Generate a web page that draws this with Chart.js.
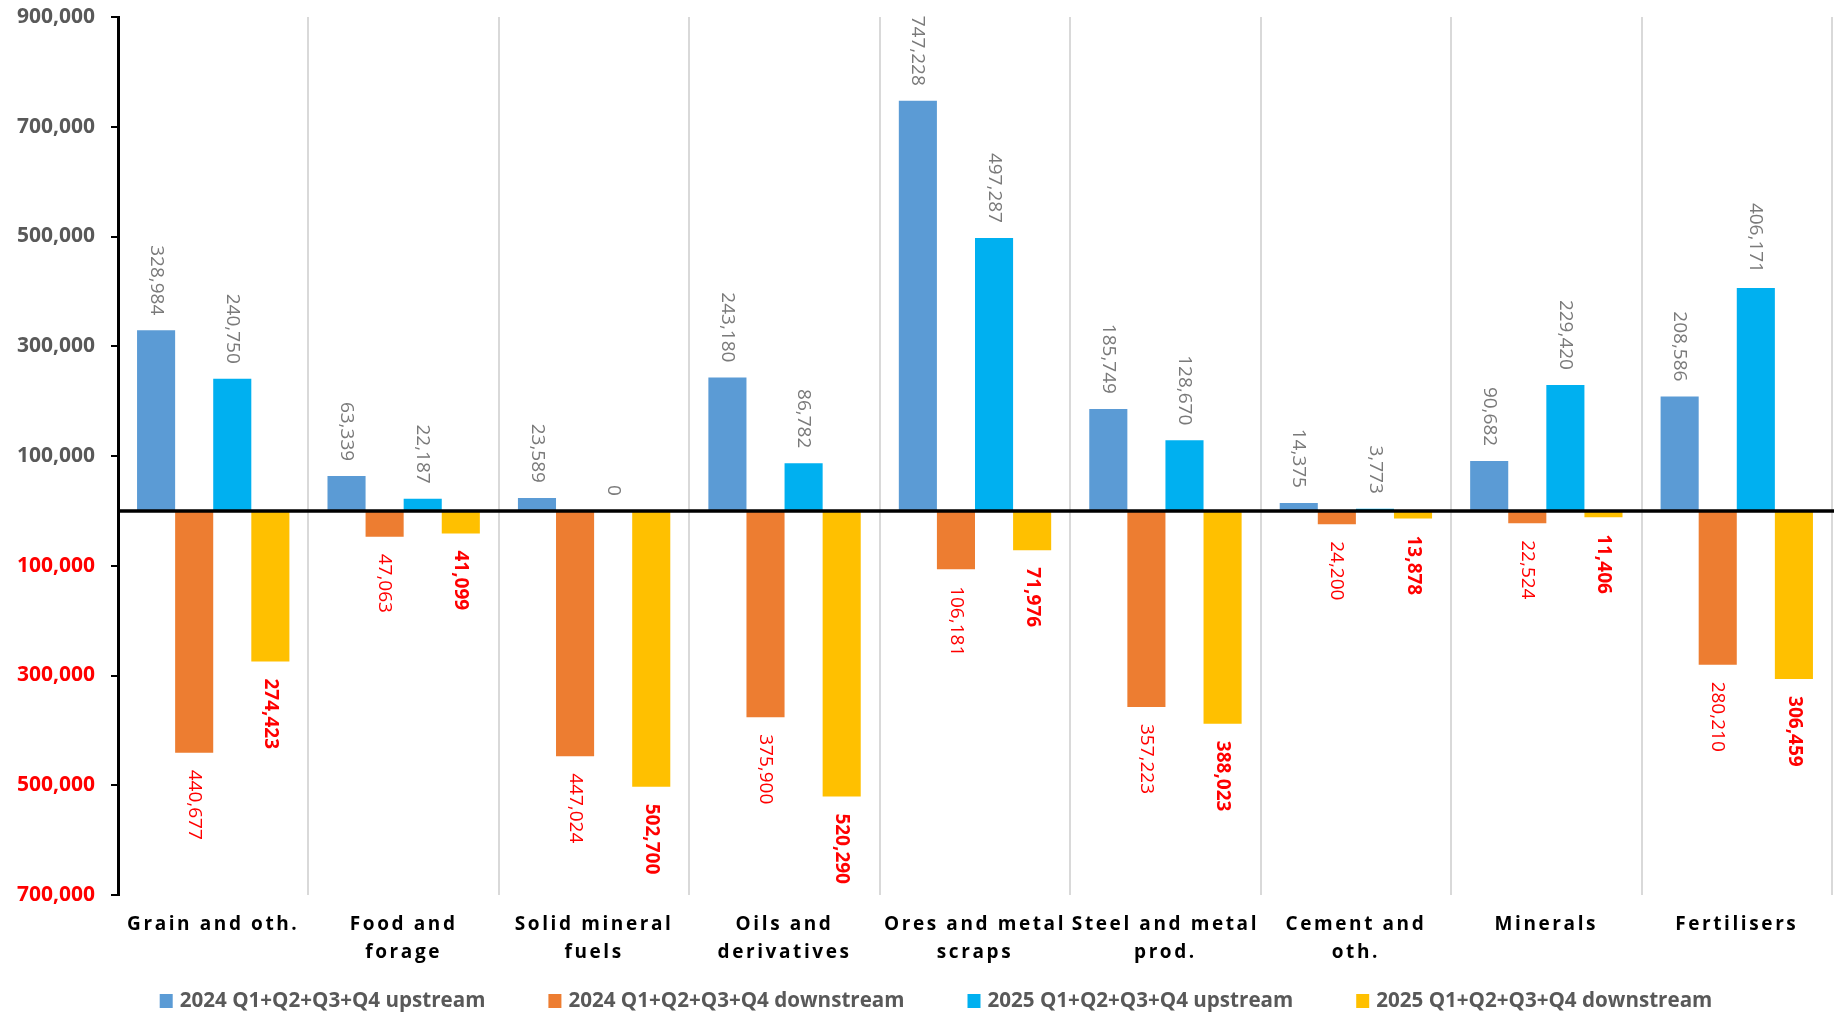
<!DOCTYPE html>
<html>
<head>
<meta charset="utf-8">
<script src="https://cdn.jsdelivr.net/npm/chart.js@4"></script>
<style>
html,body{margin:0;padding:0;background:#fff;}
#wrap{width:1834px;height:1016px;position:relative;}
</style>
</head>
<body>
<div id="wrap"><canvas id="c"></canvas></div>
<script>
const categories = [
  ["Grain and oth."],
  ["Food and", "forage"],
  ["Solid mineral", "fuels"],
  ["Oils and", "derivatives"],
  ["Ores and metal", "scraps"],
  ["Steel and metal", "prod."],
  ["Cement and", "oth."],
  ["Minerals"],
  ["Fertilisers"]
];
const seriesNames = [
  "2024 Q1+Q2+Q3+Q4 upstream",
  "2024 Q1+Q2+Q3+Q4 downstream",
  "2025 Q1+Q2+Q3+Q4 upstream",
  "2025 Q1+Q2+Q3+Q4 downstream"
];
const upstream2024   = [328984, 63339, 23589, 243180, 747228, 185749, 14375, 90682, 208586];
const downstream2024 = [-440677, -47063, -447024, -375900, -106181, -357223, -24200, -22524, -280210];
const upstream2025   = [240750, 22187, 0, 86782, 497287, 128670, 3773, 229420, 406171];
const downstream2025 = [-274423, -41099, -502700, -520290, -71976, -388023, -13878, -11406, -306459];
const yMin = -700000, yMax = 900000, yStep = 200000;

const colors = ['#5B9BD5', '#ED7D31', '#00B0F0', '#FFC000'];
const labelColors = ['#7a7a7a', '#FF0000', '#7a7a7a', '#FF0000'];
const labelBold = [false, false, false, true];

const fmt = v => Math.abs(v).toLocaleString('en-US');

const xLetterSpacing = {
  id: 'xLetterSpacing',
  afterUpdate(chart) {
    const s = chart.scales.x;
    if (s && !s._lsPatched) {
      const orig = s.drawLabels.bind(s);
      s.drawLabels = function (area) {
        const c = this.ctx;
        c.save();
        c.letterSpacing = '2.6px';
        orig(area);
        c.restore();
      };
      s._lsPatched = true;
    }
  }
};

const zeroLine = {
  id: 'zeroLine',
  afterDatasetsDraw(chart) {
    const { ctx, chartArea, scales } = chart;
    const y0 = scales.y.getPixelForValue(0);
    ctx.save();
    ctx.strokeStyle = '#000';
    ctx.lineWidth = 3.5;
    ctx.beginPath();
    ctx.moveTo(chartArea.left, y0);
    ctx.lineTo(chart.width, y0);
    ctx.stroke();
    ctx.restore();
  }
};

const valueLabels = {
  id: 'valueLabels',
  afterDraw(chart) {
    const ctx = chart.ctx;
    chart.data.datasets.forEach((ds, di) => {
      const meta = chart.getDatasetMeta(di);
      meta.data.forEach((bar, i) => {
        const v = ds.data[i];
        ctx.save();
        ctx.translate(bar.x, bar.y);
        ctx.rotate(Math.PI / 2);
        ctx.font = (labelBold[di] ? 'bold ' : '') + '19px "Open Sans"';
        ctx.fillStyle = labelColors[di];
        ctx.textBaseline = 'middle';
        if (v >= 0) {
          ctx.textAlign = 'right';
          ctx.fillText(fmt(v), -15, 0);
        } else {
          ctx.textAlign = 'left';
          ctx.fillText(fmt(v), 17, 0);
        }
        ctx.restore();
      });
    });
  }
};

const customLegend = {
  id: 'customLegend',
  afterDraw(chart) {
    const ctx = chart.ctx;
    ctx.save();
    ctx.font = 'bold 20.6px "Open Sans"';
    ctx.textBaseline = 'middle';
    const boxW = 13, boxH = 14, gapBox = 7, gapItem = 63;
    const widths = chart.data.datasets.map(d => boxW + gapBox + ctx.measureText(d.label).width);
    const total = widths.reduce((a, b) => a + b, 0) + gapItem * (widths.length - 1);
    let x = chart.width / 2 + 19 - total / 2;
    const yc = 1001;
    chart.data.datasets.forEach((d, i) => {
      ctx.fillStyle = d.backgroundColor;
      ctx.fillRect(x, yc - boxH / 2, boxW, boxH);
      ctx.fillStyle = '#595959';
      ctx.textAlign = 'left';
      ctx.fillText(d.label, x + boxW + gapBox, yc);
      x += widths[i] + gapItem;
    });
    ctx.restore();
  }
};

const seriesData = [upstream2024, downstream2024, upstream2025, downstream2025];

new Chart(document.getElementById('c'), {
  type: 'bar',
  data: {
    labels: categories,
    datasets: seriesData.map((d, i) => ({
      label: seriesNames[i],
      data: d,
      backgroundColor: colors[i],
      borderWidth: 0,
      categoryPercentage: 0.8,
      barPercentage: 1.0
    }))
  },
  options: {
    responsive: true,
    maintainAspectRatio: false,
    animation: false,
    layout: { padding: { top: 17, right: 2, bottom: 51, left: 0 } },
    plugins: {
      legend: { display: false },
      tooltip: { enabled: false }
    },
    scales: {
      x: {
        grid: { display: true, color: '#d9d9d9', lineWidth: 2, drawTicks: false, offset: true },
        border: { display: false },
        ticks: {
          autoSkip: false, maxRotation: 0, minRotation: 0,
          color: '#000',
          padding: 16,
          font: { family: '"Open Sans"', weight: 'bold', size: 19, lineHeight: 1.45 }
        },
        afterFit(s) { s.height = 70; s.paddingLeft = 0; s.paddingRight = 0; }
      },
      y: {
        min: yMin, max: yMax,
        grid: { display: true, drawOnChartArea: false, drawTicks: true, tickLength: 7, color: '#000', lineWidth: 2 },
        border: { display: true, color: '#000', width: 3 },
        ticks: {
          stepSize: yStep,
          padding: 16,
          callback: v => fmt(v),
          color: c => (c.tick && c.tick.value < 0) ? '#FF0000' : '#595959',
          font: { family: '"Open Sans"', weight: 'bold', size: 21 }
        },
        afterFit(s) { s.width = 118; s.paddingTop = 0; s.paddingBottom = 0; }
      }
    }
  },
  plugins: [xLetterSpacing, zeroLine, valueLabels, customLegend]
});
</script>
</body>
</html>
